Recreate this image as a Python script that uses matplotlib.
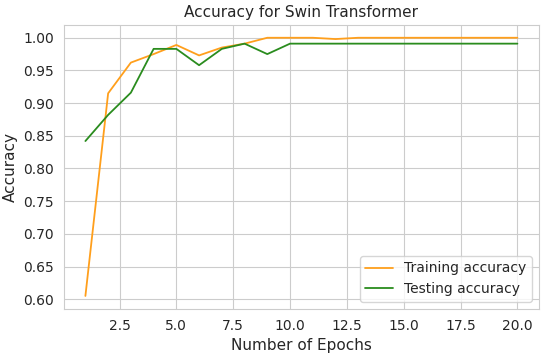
import matplotlib
matplotlib.use('Agg')
import matplotlib.pyplot as plt
import seaborn as sns

# Epochs and accuracies
epochs = list(range(1, 21))
train_acc = [0.605, 0.915, 0.962, 0.975, 0.989, 0.973, 0.985, 0.991, 1.0, 1.0,
             1.0, 0.998, 1.0, 1.0, 1.0, 1.0, 1.0, 1.0, 1.0, 1.0]
test_acc = [0.842, 0.882, 0.916, 0.983, 0.983, 0.958, 0.983, 0.991, 0.975, 0.991,
            0.991, 0.991, 0.991, 0.991, 0.991, 0.991, 0.991, 0.991, 0.991, 0.991]

sns.set_style('whitegrid')
plt.rcParams['font.family'] = ['DejaVu Sans']

fig, ax = plt.subplots(figsize=(5.5, 3.55), dpi=100)
ax.plot(epochs, train_acc, color='#ff9f1c', lw=1.3, label='Training accuracy')
ax.plot(epochs, test_acc, color='#2a8c1e', lw=1.3, label='Testing accuracy')
ax.set_title('Accuracy for Swin Transformer', fontsize=11)
ax.set_xlabel('Number of Epochs', fontsize=11)
ax.set_ylabel('Accuracy', fontsize=11)
ax.tick_params(labelsize=10)
ax.legend(loc='lower right', fontsize=10)
fig.subplots_adjust(left=0.116, right=0.98, top=0.93, bottom=0.13)
fig.savefig('out.png')
